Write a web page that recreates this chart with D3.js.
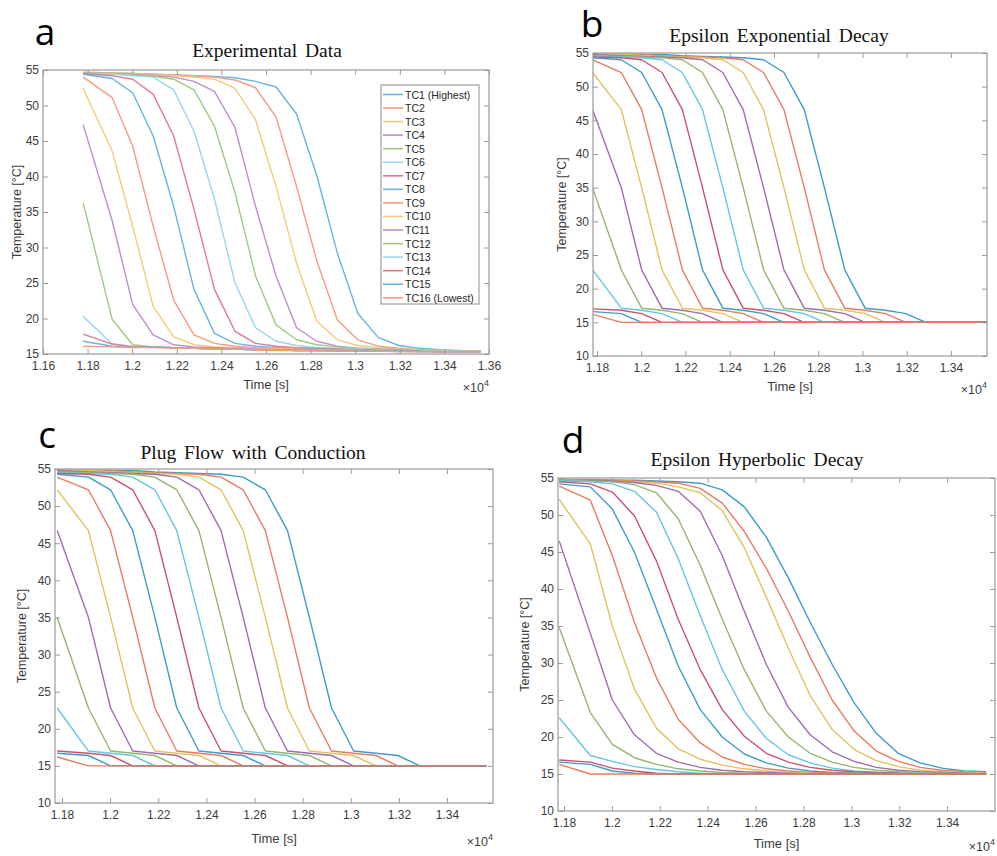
<!DOCTYPE html>
<html>
<head>
<meta charset="utf-8">
<script src="https://cdn.jsdelivr.net/npm/d3@7"></script>
<style>
  body { margin: 0; background: #fff; }
  text { font-family: "Liberation Sans", Arial, sans-serif; }
</style>
</head>
<body>
<script>
// sample times of the thermocouple records, in units of 10^4 s
var time = [1.178, 1.191, 1.2002, 1.2094, 1.2186, 1.2277, 1.2369, 1.2461, 1.2553, 1.2645,
            1.2737, 1.2828, 1.292, 1.3012, 1.3104, 1.3196, 1.3287, 1.3379, 1.3471, 1.3563];

var names = ["TC1 (Highest)", "TC2", "TC3", "TC4", "TC5", "TC6", "TC7", "TC8",
             "TC9", "TC10", "TC11", "TC12", "TC13", "TC14", "TC15", "TC16 (Lowest)"];

// a - measured temperatures
var experimental = [
  [54.6, 54.6, 54.5, 54.4, 54.3, 54.2, 54.1, 53.9, 53.4, 52.6, 48.8, 40.1, 29.2, 20.7, 17.3, 16.2, 15.8, 15.6, 15.5, 15.4],
  [54.7, 54.6, 54.5, 54.4, 54.3, 54.2, 54.0, 53.6, 52.5, 48.4, 38.6, 28.1, 19.8, 17.0, 16.1, 15.8, 15.6, 15.5, 15.4, 15.4],
  [54.7, 54.6, 54.5, 54.3, 54.2, 54.0, 53.7, 52.4, 48.0, 38.6, 27.8, 19.6, 17.0, 16.2, 15.9, 15.7, 15.5, 15.5, 15.4, 15.4],
  [54.6, 54.5, 54.4, 54.2, 54.0, 53.4, 52.0, 46.9, 35.8, 26.0, 18.7, 16.8, 16.1, 15.8, 15.7, 15.6, 15.5, 15.4, 15.4, 15.4],
  [54.6, 54.5, 54.3, 54.1, 53.7, 52.2, 47.1, 37.7, 26.0, 19.1, 17.0, 16.3, 16.0, 15.8, 15.7, 15.6, 15.5, 15.4, 15.4, 15.4],
  [54.5, 54.4, 54.2, 54.0, 52.2, 46.4, 36.8, 25.0, 18.7, 16.8, 16.2, 15.9, 15.8, 15.7, 15.6, 15.5, 15.5, 15.4, 15.4, 15.4],
  [54.5, 54.2, 53.7, 51.6, 45.7, 35.4, 24.1, 18.2, 16.5, 16.1, 15.9, 15.8, 15.7, 15.6, 15.5, 15.5, 15.4, 15.4, 15.4, 15.4],
  [54.4, 53.8, 51.8, 45.7, 35.8, 24.1, 17.9, 16.5, 16.1, 15.9, 15.8, 15.7, 15.6, 15.6, 15.5, 15.5, 15.4, 15.4, 15.4, 15.4],
  [54.0, 51.1, 44.3, 33.0, 22.6, 17.7, 16.5, 16.1, 15.9, 15.8, 15.7, 15.6, 15.6, 15.5, 15.5, 15.4, 15.4, 15.4, 15.4, 15.4],
  [52.4, 43.6, 33.0, 21.7, 17.4, 16.3, 16.0, 15.9, 15.8, 15.7, 15.6, 15.6, 15.5, 15.5, 15.4, 15.4, 15.4, 15.4, 15.4, 15.4],
  [47.3, 33.8, 22.0, 17.7, 16.3, 16.0, 15.9, 15.8, 15.7, 15.6, 15.6, 15.5, 15.5, 15.5, 15.4, 15.4, 15.4, 15.4, 15.4, 15.4],
  [36.3, 19.9, 16.3, 16.0, 15.9, 15.8, 15.7, 15.7, 15.6, 15.6, 15.5, 15.5, 15.5, 15.5, 15.4, 15.4, 15.4, 15.4, 15.4, 15.4],
  [20.3, 16.4, 16.1, 16.0, 15.9, 15.8, 15.7, 15.7, 15.6, 15.6, 15.5, 15.5, 15.5, 15.4, 15.4, 15.4, 15.4, 15.4, 15.4, 15.4],
  [17.8, 16.4, 16.0, 16.0, 15.9, 15.8, 15.8, 15.7, 15.6, 15.6, 15.5, 15.5, 15.5, 15.4, 15.4, 15.4, 15.4, 15.3, 15.3, 15.3],
  [16.8, 16.1, 15.9, 16.0, 15.9, 15.8, 15.7, 15.7, 15.6, 15.6, 15.5, 15.5, 15.4, 15.4, 15.4, 15.4, 15.3, 15.3, 15.3, 15.3],
  [16.1, 16.0, 15.9, 15.9, 15.8, 15.8, 15.7, 15.7, 15.6, 15.5, 15.5, 15.5, 15.4, 15.4, 15.4, 15.3, 15.3, 15.3, 15.3, 15.3]
];

// b - epsilon exponential decay model
var exponential = [
  [54.8, 54.8, 54.8, 54.8, 54.6, 54.5, 54.4, 54.3, 54.0, 52.1, 46.6, 35.0, 22.8, 17.1, 16.8, 16.3, 15.0, 15.0, 15.0, 15.0],
  [54.8, 54.8, 54.8, 54.6, 54.5, 54.4, 54.3, 54.0, 52.1, 46.6, 35.0, 22.8, 17.1, 16.8, 16.3, 15.0, 15.0, 15.0, 15.0, 15.0],
  [54.8, 54.8, 54.6, 54.5, 54.4, 54.3, 54.0, 52.1, 46.6, 35.0, 22.8, 17.1, 16.8, 16.3, 15.0, 15.0, 15.0, 15.0, 15.0, 15.0],
  [54.8, 54.6, 54.5, 54.4, 54.3, 54.0, 52.1, 46.6, 35.0, 22.8, 17.1, 16.8, 16.3, 15.0, 15.0, 15.0, 15.0, 15.0, 15.0, 15.0],
  [54.6, 54.5, 54.4, 54.3, 54.0, 52.1, 46.6, 35.0, 22.8, 17.1, 16.8, 16.3, 15.0, 15.0, 15.0, 15.0, 15.0, 15.0, 15.0, 15.0],
  [54.5, 54.4, 54.3, 54.0, 52.1, 46.6, 35.0, 22.8, 17.1, 16.8, 16.3, 15.0, 15.0, 15.0, 15.0, 15.0, 15.0, 15.0, 15.0, 15.0],
  [54.4, 54.3, 54.0, 52.1, 46.6, 35.0, 22.8, 17.1, 16.8, 16.3, 15.0, 15.0, 15.0, 15.0, 15.0, 15.0, 15.0, 15.0, 15.0, 15.0],
  [54.3, 54.0, 52.1, 46.6, 35.0, 22.8, 17.1, 16.8, 16.3, 15.0, 15.0, 15.0, 15.0, 15.0, 15.0, 15.0, 15.0, 15.0, 15.0, 15.0],
  [54.0, 52.1, 46.6, 35.0, 22.8, 17.1, 16.8, 16.3, 15.0, 15.0, 15.0, 15.0, 15.0, 15.0, 15.0, 15.0, 15.0, 15.0, 15.0, 15.0],
  [52.1, 46.6, 35.0, 22.8, 17.1, 16.8, 16.3, 15.0, 15.0, 15.0, 15.0, 15.0, 15.0, 15.0, 15.0, 15.0, 15.0, 15.0, 15.0, 15.0],
  [46.6, 35.0, 22.8, 17.1, 16.8, 16.3, 15.0, 15.0, 15.0, 15.0, 15.0, 15.0, 15.0, 15.0, 15.0, 15.0, 15.0, 15.0, 15.0, 15.0],
  [35.0, 22.8, 17.1, 16.8, 16.3, 15.0, 15.0, 15.0, 15.0, 15.0, 15.0, 15.0, 15.0, 15.0, 15.0, 15.0, 15.0, 15.0, 15.0, 15.0],
  [22.8, 17.1, 16.8, 16.3, 15.0, 15.0, 15.0, 15.0, 15.0, 15.0, 15.0, 15.0, 15.0, 15.0, 15.0, 15.0, 15.0, 15.0, 15.0, 15.0],
  [17.0, 16.8, 16.3, 15.0, 15.0, 15.0, 15.0, 15.0, 15.0, 15.0, 15.0, 15.0, 15.0, 15.0, 15.0, 15.0, 15.0, 15.0, 15.0, 15.0],
  [16.6, 16.3, 15.0, 15.0, 15.0, 15.0, 15.0, 15.0, 15.0, 15.0, 15.0, 15.0, 15.0, 15.0, 15.0, 15.0, 15.0, 15.0, 15.0, 15.0],
  [16.2, 15.0, 15.0, 15.0, 15.0, 15.0, 15.0, 15.0, 15.0, 15.0, 15.0, 15.0, 15.0, 15.0, 15.0, 15.0, 15.0, 15.0, 15.0, 15.0]
];

// c - plug flow with conduction model
var plugFlow = [
  [54.8, 54.8, 54.8, 54.8, 54.6, 54.5, 54.4, 54.3, 53.9, 52.2, 46.7, 35.0, 22.8, 17.0, 16.7, 16.4, 15.0, 15.0, 15.0, 15.0],
  [54.8, 54.8, 54.8, 54.6, 54.5, 54.4, 54.3, 53.9, 52.2, 46.7, 35.0, 22.8, 17.0, 16.7, 16.4, 15.0, 15.0, 15.0, 15.0, 15.0],
  [54.8, 54.8, 54.6, 54.5, 54.4, 54.3, 53.9, 52.2, 46.7, 35.0, 22.8, 17.0, 16.7, 16.4, 15.0, 15.0, 15.0, 15.0, 15.0, 15.0],
  [54.8, 54.6, 54.5, 54.4, 54.3, 53.9, 52.2, 46.7, 35.0, 22.8, 17.0, 16.7, 16.4, 15.0, 15.0, 15.0, 15.0, 15.0, 15.0, 15.0],
  [54.6, 54.5, 54.4, 54.3, 53.9, 52.2, 46.7, 35.0, 22.8, 17.0, 16.7, 16.4, 15.0, 15.0, 15.0, 15.0, 15.0, 15.0, 15.0, 15.0],
  [54.5, 54.4, 54.3, 53.9, 52.2, 46.7, 35.0, 22.8, 17.0, 16.7, 16.4, 15.0, 15.0, 15.0, 15.0, 15.0, 15.0, 15.0, 15.0, 15.0],
  [54.4, 54.3, 53.9, 52.2, 46.7, 35.0, 22.8, 17.0, 16.7, 16.4, 15.0, 15.0, 15.0, 15.0, 15.0, 15.0, 15.0, 15.0, 15.0, 15.0],
  [54.3, 53.9, 52.2, 46.7, 35.0, 22.8, 17.0, 16.7, 16.4, 15.0, 15.0, 15.0, 15.0, 15.0, 15.0, 15.0, 15.0, 15.0, 15.0, 15.0],
  [53.9, 52.2, 46.7, 35.0, 22.8, 17.0, 16.7, 16.4, 15.0, 15.0, 15.0, 15.0, 15.0, 15.0, 15.0, 15.0, 15.0, 15.0, 15.0, 15.0],
  [52.2, 46.7, 35.0, 22.8, 17.0, 16.7, 16.4, 15.0, 15.0, 15.0, 15.0, 15.0, 15.0, 15.0, 15.0, 15.0, 15.0, 15.0, 15.0, 15.0],
  [46.7, 35.0, 22.8, 17.0, 16.7, 16.4, 15.0, 15.0, 15.0, 15.0, 15.0, 15.0, 15.0, 15.0, 15.0, 15.0, 15.0, 15.0, 15.0, 15.0],
  [35.0, 22.8, 17.0, 16.7, 16.4, 15.0, 15.0, 15.0, 15.0, 15.0, 15.0, 15.0, 15.0, 15.0, 15.0, 15.0, 15.0, 15.0, 15.0, 15.0],
  [22.8, 17.0, 16.7, 16.4, 15.0, 15.0, 15.0, 15.0, 15.0, 15.0, 15.0, 15.0, 15.0, 15.0, 15.0, 15.0, 15.0, 15.0, 15.0, 15.0],
  [17.0, 16.7, 16.4, 15.0, 15.0, 15.0, 15.0, 15.0, 15.0, 15.0, 15.0, 15.0, 15.0, 15.0, 15.0, 15.0, 15.0, 15.0, 15.0, 15.0],
  [16.7, 16.4, 15.0, 15.0, 15.0, 15.0, 15.0, 15.0, 15.0, 15.0, 15.0, 15.0, 15.0, 15.0, 15.0, 15.0, 15.0, 15.0, 15.0, 15.0],
  [16.2, 15.0, 15.0, 15.0, 15.0, 15.0, 15.0, 15.0, 15.0, 15.0, 15.0, 15.0, 15.0, 15.0, 15.0, 15.0, 15.0, 15.0, 15.0, 15.0]
];

// d - epsilon hyperbolic decay model
var hyperbolic = [
  [54.8, 54.8, 54.7, 54.7, 54.6, 54.5, 54.3, 53.4, 51.1, 47.0, 41.5, 35.5, 29.8, 24.6, 20.5, 17.8, 16.5, 15.8, 15.4, 15.3],
  [54.8, 54.7, 54.7, 54.6, 54.5, 54.3, 53.6, 51.6, 47.8, 42.8, 37.0, 30.8, 25.0, 20.8, 18.1, 16.7, 15.9, 15.5, 15.3, 15.2],
  [54.8, 54.7, 54.6, 54.5, 54.3, 53.8, 53.0, 50.6, 45.6, 38.9, 32.0, 25.6, 21.0, 18.3, 16.8, 16.0, 15.5, 15.3, 15.2, 15.1],
  [54.7, 54.7, 54.6, 54.4, 54.0, 53.2, 50.5, 44.5, 37.0, 29.8, 24.0, 20.3, 18.0, 16.7, 15.9, 15.5, 15.3, 15.2, 15.1, 15.0],
  [54.7, 54.6, 54.5, 54.1, 53.0, 49.5, 43.2, 35.9, 29.1, 23.5, 20.0, 17.8, 16.6, 15.9, 15.5, 15.3, 15.2, 15.1, 15.0, 15.0],
  [54.6, 54.5, 54.2, 53.2, 50.4, 44.1, 36.4, 29.1, 23.5, 19.8, 17.6, 16.5, 15.8, 15.4, 15.2, 15.1, 15.1, 15.0, 15.0, 15.0],
  [54.5, 54.2, 53.1, 49.9, 43.8, 35.9, 29.1, 23.7, 20.1, 17.8, 16.6, 15.9, 15.5, 15.3, 15.2, 15.1, 15.0, 15.0, 15.0, 15.0],
  [54.2, 53.8, 50.8, 45.0, 37.3, 29.6, 23.7, 20.0, 17.7, 16.5, 15.8, 15.4, 15.2, 15.1, 15.1, 15.0, 15.0, 15.0, 15.0, 15.0],
  [53.9, 52.0, 44.5, 35.5, 28.0, 22.4, 19.2, 17.3, 16.3, 15.7, 15.4, 15.2, 15.1, 15.1, 15.0, 15.0, 15.0, 15.0, 15.0, 15.0],
  [52.1, 46.1, 35.0, 26.5, 21.2, 18.4, 17.0, 16.2, 15.7, 15.4, 15.2, 15.1, 15.0, 15.0, 15.0, 15.0, 15.0, 15.0, 15.0, 15.0],
  [46.5, 34.0, 25.0, 20.3, 17.8, 16.6, 15.9, 15.5, 15.3, 15.2, 15.1, 15.0, 15.0, 15.0, 15.0, 15.0, 15.0, 15.0, 15.0, 15.0],
  [34.8, 23.3, 19.0, 17.2, 16.3, 15.7, 15.4, 15.2, 15.1, 15.0, 15.0, 15.0, 15.0, 15.0, 15.0, 15.0, 15.0, 15.0, 15.0, 15.0],
  [22.6, 17.5, 16.7, 16.0, 15.6, 15.3, 15.1, 15.0, 15.0, 15.0, 15.0, 15.0, 15.0, 15.0, 15.0, 15.0, 15.0, 15.0, 15.0, 15.0],
  [16.9, 16.6, 15.8, 15.4, 15.1, 15.0, 15.0, 15.0, 15.0, 15.0, 15.0, 15.0, 15.0, 15.0, 15.0, 15.0, 15.0, 15.0, 15.0, 15.0],
  [16.6, 16.3, 15.4, 15.1, 15.0, 15.0, 15.0, 15.0, 15.0, 15.0, 15.0, 15.0, 15.0, 15.0, 15.0, 15.0, 15.0, 15.0, 15.0, 15.0],
  [16.3, 15.0, 15.0, 15.0, 15.0, 15.0, 15.0, 15.0, 15.0, 15.0, 15.0, 15.0, 15.0, 15.0, 15.0, 15.0, 15.0, 15.0, 15.0, 15.0]
];

var xTicksA = [1.16, 1.18, 1.2, 1.22, 1.24, 1.26, 1.28, 1.3, 1.32, 1.34, 1.36];
var xTicksModel = [1.18, 1.2, 1.22, 1.24, 1.26, 1.28, 1.3, 1.32, 1.34];
var yTicksA = [15, 20, 25, 30, 35, 40, 45, 50, 55];
var yTicksModel = [10, 15, 20, 25, 30, 35, 40, 45, 50, 55];

// MATLAB default line order, washed out as in the scan
var paleColors = ["#68b4e0", "#f49c7e", "#f6c97c", "#bc8ecd", "#9fcb80", "#96d7f2", "#e27a8e"];
var modelColors = ["#3f9bc9", "#e87c5e", "#e0c35e", "#a06cb0", "#93b76b", "#66c4e6", "#c9526d"];

var width = 997, height = 856;

var svg = d3.select("body")
            .append("svg")
            .attr("width", width)
            .attr("height", height);

svg.append("rect")
   .attr("width", width)
   .attr("height", height)
   .attr("fill", "white");

function fmt(d) { return String(+d.toFixed(2)); }

function drawPanel(p, idx) {
  var x = d3.scaleLinear().domain(p.xDomain).range([p.left, p.right]);
  var y = d3.scaleLinear().domain(p.yDomain).range([p.bottom, p.top]);
  var g = svg.append("g");

  g.append("clipPath").attr("id", "clip" + idx)
   .append("rect")
   .attr("x", p.left).attr("y", p.top)
   .attr("width", p.right - p.left).attr("height", p.bottom - p.top);

  // curves, TC1 first so the lower ones sit on top like in MATLAB
  var line = d3.line()
               .x(function(d, i) { return x(time[i]); })
               .y(function(d) { return y(d); });

  g.append("g").attr("clip-path", "url(#clip" + idx + ")")
   .selectAll("path")
   .data(p.series)
   .enter().append("path")
   .attr("d", line)
   .attr("fill", "none")
   .attr("stroke", function(d, i) { return p.colors[i % 7]; })
   .attr("stroke-width", 1.4)
   .attr("stroke-linejoin", "round");

  // axes: ticks pointing inward on all four sides
  var axisColor = "#9a9a9a";
  var bottom = g.append("g").attr("transform", "translate(0," + p.bottom + ")")
    .call(d3.axisBottom(x).tickValues(p.xTicks).tickFormat(fmt).tickSizeInner(-5).tickSizeOuter(0).tickPadding(7));
  var top = g.append("g").attr("transform", "translate(0," + p.top + ")")
    .call(d3.axisTop(x).tickValues(p.xTicks).tickFormat("").tickSizeInner(-5).tickSizeOuter(0));
  var left = g.append("g").attr("transform", "translate(" + p.left + ",0)")
    .call(d3.axisLeft(y).tickValues(p.yTicks).tickSizeInner(-5).tickSizeOuter(0).tickPadding(4));
  var right = g.append("g").attr("transform", "translate(" + p.right + ",0)")
    .call(d3.axisRight(y).tickValues(p.yTicks).tickFormat("").tickSizeInner(-5).tickSizeOuter(0));

  [bottom, top, left, right].forEach(function(a) {
    a.select(".domain").remove();
    a.selectAll("line").attr("stroke", axisColor);
    a.selectAll("text").attr("fill", "#3c3c3c")
     .style("font-family", "'Liberation Sans', Arial, sans-serif")
     .style("font-size", "12px");
  });

  g.append("rect")
   .attr("x", p.left).attr("y", p.top)
   .attr("width", p.right - p.left).attr("height", p.bottom - p.top)
   .attr("fill", "none").attr("stroke", axisColor).attr("stroke-width", 1.2);

  // labels
  g.append("text")
   .attr("x", (p.left + p.right) / 2).attr("y", p.xLabelY)
   .attr("text-anchor", "middle").attr("fill", "#3c3c3c")
   .style("font-size", "13px")
   .text("Time [s]");

  g.append("text")
   .attr("transform", "translate(" + p.yLabelX + "," + ((p.top + p.bottom) / 2) + ") rotate(-90)")
   .attr("text-anchor", "middle").attr("fill", "#3c3c3c")
   .style("font-size", "12.5px")
   .text("Temperature [°C]");

  var ex = g.append("text")
   .attr("x", p.right).attr("y", p.xLabelY + 3)
   .attr("text-anchor", "end").attr("fill", "#3c3c3c")
   .style("font-size", "12.5px");
  ex.append("tspan").text("\u00d710");
  ex.append("tspan").attr("dy", -6).style("font-size", "9px").text("4");

  g.append("text")
   .attr("x", p.titleX).attr("y", p.titleY)
   .attr("text-anchor", "middle").attr("fill", "#111")
   .style("font-family", "'Liberation Serif', 'Times New Roman', serif")
   .style("font-size", "19.5px")
   .attr("word-spacing", "3px")
   .text(p.title);

  g.append("text")
   .attr("x", p.letterX).attr("y", p.letterY)
   .attr("text-anchor", "middle").attr("fill", "#000")
   .style("font-family", "'Open Sans', 'Noto Sans', sans-serif")
   .style("font-size", "37px")
   .text(p.letter);

  return { x: x, y: y, g: g };
}

var panels = [
  { series: experimental, colors: paleColors, left: 43, right: 489, top: 70, bottom: 354,
    xDomain: [1.16, 1.36], yDomain: [15, 55], xTicks: xTicksA, yTicks: yTicksA,
    title: "Experimental Data", titleX: 267, titleY: 57, letter: "a", letterX: 45, letterY: 45,
    xLabelY: 389, yLabelX: 21 },
  { series: exponential, colors: modelColors, left: 593, right: 987, top: 53, bottom: 356,
    xDomain: [1.1782, 1.3563], yDomain: [10, 55], xTicks: xTicksModel, yTicks: yTicksModel,
    title: "Epsilon Exponential Decay", titleX: 779, titleY: 42, letter: "b", letterX: 592, letterY: 37,
    xLabelY: 391, yLabelX: 566 },
  { series: plugFlow, colors: modelColors, left: 55, right: 493, top: 469, bottom: 803,
    xDomain: [1.1771, 1.3591], yDomain: [10, 55], xTicks: xTicksModel, yTicks: yTicksModel,
    title: "Plug Flow with Conduction", titleX: 253, titleY: 459, letter: "c", letterX: 47, letterY: 448,
    xLabelY: 843, yLabelX: 26 },
  { series: hyperbolic, colors: modelColors, left: 558, right: 995, top: 478, bottom: 811,
    xDomain: [1.1775, 1.36], yDomain: [10, 55], xTicks: xTicksModel, yTicks: yTicksModel,
    title: "Epsilon Hyperbolic Decay", titleX: 757, titleY: 466, letter: "d", letterX: 573, letterY: 453,
    xLabelY: 848, yLabelX: 529 }
];

panels.forEach(drawPanel);

// legend of panel a
var legend = svg.append("g");
legend.append("rect")
      .attr("x", 381).attr("y", 85).attr("width", 98).attr("height", 219)
      .attr("fill", "white").attr("stroke", "#8c8c8c").attr("stroke-width", 1);

var entry = legend.selectAll("g.entry")
  .data(names)
  .enter().append("g")
  .attr("class", "entry")
  .attr("transform", function(d, i) { return "translate(0," + (94.5 + i * 13.55) + ")"; });

entry.append("line")
     .attr("x1", 383).attr("x2", 403).attr("y1", 0).attr("y2", 0)
     .attr("stroke", function(d, i) { return paleColors[i % 7]; })
     .attr("stroke-width", 1.6);

entry.append("text")
     .attr("x", 405).attr("y", 4)
     .attr("fill", "#262626")
     .style("font-size", "10.5px")
     .text(function(d) { return d; });
</script>
</body>
</html>
